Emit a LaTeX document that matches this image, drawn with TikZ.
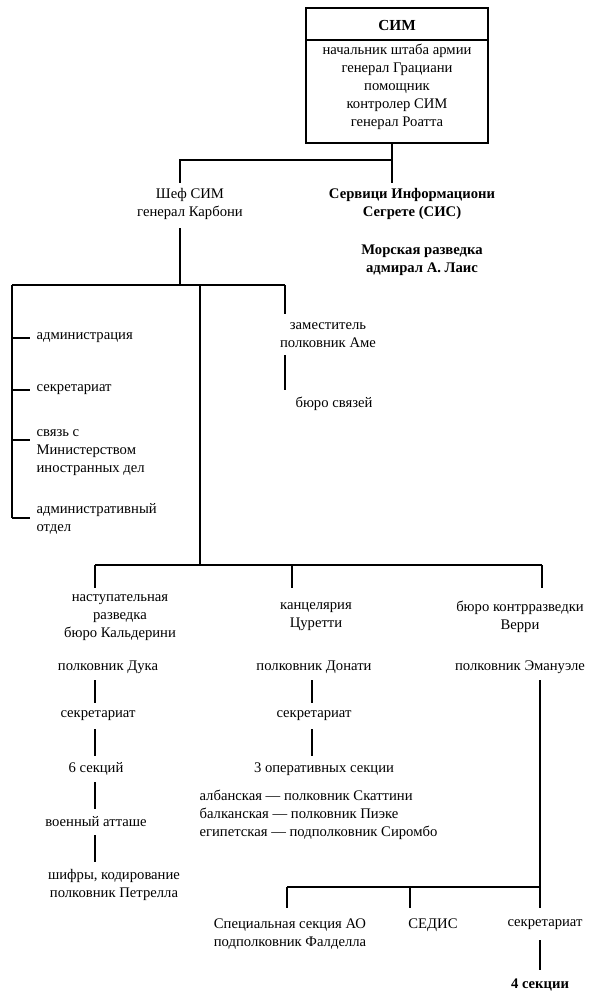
\documentclass[tikz,border=0pt]{standalone}
\usepackage{fontspec}
\setmainfont{Liberation Serif}
\usetikzlibrary{positioning,calc}
\tikzset{
  lbl/.style={align=center, inner sep=1pt, font=\fontsize{11}{13.5}\selectfont},
  lbll/.style={align=left, anchor=west, inner sep=1pt, font=\fontsize{11}{13.5}\selectfont},
  ln/.style={line width=0.8pt}
}
\begin{document}
\begin{tikzpicture}[x=0.75pt,y=-0.75pt]
\useasboundingbox (0,0) rectangle (604,1004);

% top box
\draw[ln, line width=1.2pt] (306,8) rectangle (488,143);
\draw[ln] (306,40) -- (488,40);
\node[lbl, font=\fontsize{11.5}{13.5}\selectfont\bfseries] (sim) at (397,25) {СИМ};
\node[lbl] (simtxt) at (397,87) {начальник штаба армии\\генерал Грациани\\помощник\\контролер СИМ\\генерал Роатта};
\coordinate (boxb) at (392,143);

% second level
\node[lbl] (chef) at (190,204) {Шеф СИМ\\генерал Карбони};
\node[lbl, font=\fontsize{11}{13.5}\selectfont\bfseries] (sis) at (412,204) {Сервици Информациони\\Сегрете (СИС)};
\node[lbl, font=\fontsize{11}{13.5}\selectfont\bfseries] (navy) at (422,260) {Морская разведка\\адмирал А. Лаис};
\draw[ln] (boxb) -- (392,183) (392,160) -- (180,160) -- (180,183);

% staff branch
\coordinate (hub) at (180,285);
\draw[ln] (180,228) -- (hub);
\draw[ln] (12,285) -- (285,285);
\draw[ln] (12,285) -- (12,518);
\node[lbll] (adm) at (35,338) {администрация};
\node[lbll] (secr) at (35,390) {секретариат};
\node[lbll] (mid) at (35,453) {связь с\\Министерством\\иностранных дел};
\node[lbll] (admo) at (35,519) {административный\\отдел};
\foreach \y in {338,390,440,518} \draw[ln] (12,\y) -- (30,\y);

\node[lbl] (dep) at (328,335) {заместитель\\полковник Аме};
\node[lbl] (bsv) at (334,404) {бюро связей};
\draw[ln] (285,285) -- (285,314);
\draw[ln] (285,355) -- (285,390);

% main branches
\draw[ln] (200,285) -- (200,565);
\draw[ln] (95,565) -- (542,565);
\foreach \x in {95,292,542} \draw[ln] (\x,565) -- (\x,588);

% column 1
\node[lbl] (off) at (120,618) {наступательная\\разведка\\бюро Кальдерини};
\node[lbl] (duka) at (108,667) {полковник Дука};
\node[lbl] (sec1) at (98,716) {секретариат};
\node[lbl] (six) at (96,769) {6 секций};
\node[lbl] (att) at (96,822) {военный атташе};
\node[lbl] (cip) at (114,885) {шифры, кодирование\\полковник Петрелла};
\draw[ln] (95,680) -- (95,703) (95,729) -- (95,756) (95,782) -- (95,809) (95,835) -- (95,862);

% column 2
\node[lbl] (kanc) at (316,617) {канцелярия\\Цуретти};
\node[lbl] (don) at (314,667) {полковник Донати};
\node[lbl] (sec2) at (314,716) {секретариат};
\node[lbl] (oper) at (324,769) {3 оперативных секции};
\node[lbll] (alb) at (198,815) {албанская — полковник Скаттини\\балканская — полковник Пиэке\\египетская — подполковник Сиромбо};
\draw[ln] (312,680) -- (312,703) (312,729) -- (312,756);

% column 3
\node[lbl] (ctr) at (520,617) {бюро контрразведки\\Верри};
\node[lbl] (ema) at (520,667) {полковник Эмануэле};
\draw[ln] (540,680) -- (540,887);
\draw[ln] (287,887) -- (540,887);
\foreach \x in {287,410,540} \draw[ln] (\x,887) -- (\x,908);
\node[lbl] (ao) at (290,934) {Специальная секция АО\\подполковник Фалделла};
\node[lbl] (sed) at (433,925) {СЕДИС};
\node[lbl] (sec3) at (545,925) {секретариат};
\node[lbl, font=\fontsize{11}{13.5}\selectfont\bfseries] (four) at (540,985) {4 секции};
\draw[ln] (540,940) -- (540,970);
\end{tikzpicture}
\end{document}
